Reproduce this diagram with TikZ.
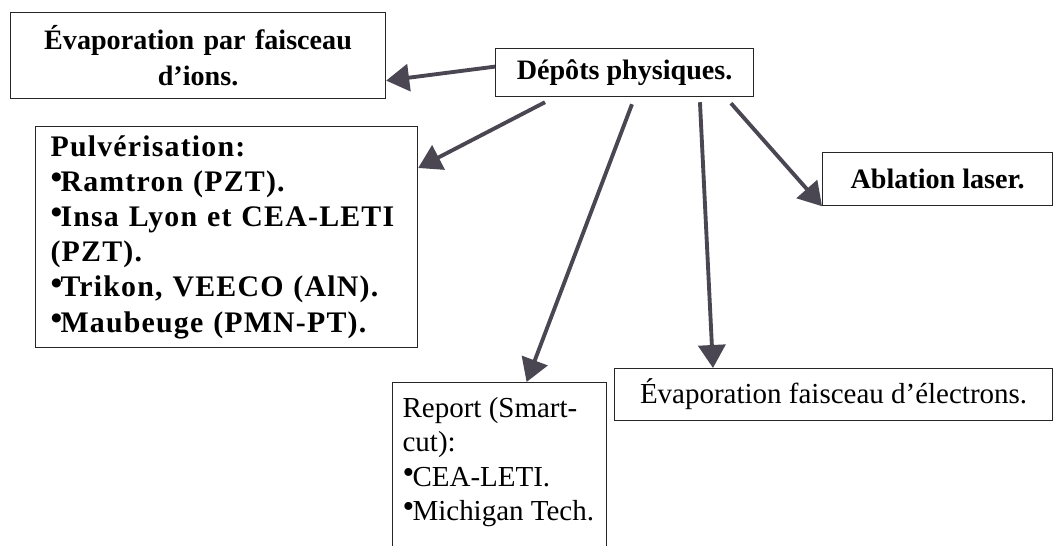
\documentclass[tikz,border=0pt]{standalone}
\usepackage{fontspec}
\setmainfont{Liberation Serif}
\usetikzlibrary{arrows.meta}

\definecolor{gristrait}{HTML}{4A4652}
\newcommand{\puce}{\raisebox{.2ex}{\fontsize{19}{19}\selectfont\textbullet}\kern-1pt}

\begin{document}
\begin{tikzpicture}[x=0.02cm,y=-0.02cm,
		boite/.style={draw=black!85,line width=0.7pt,anchor=north west,inner sep=0pt},
		gras/.style={font=\fontsize{16}{20}\selectfont\bfseries},
		liste/.style={font=\fontsize{17}{20}\selectfont\bfseries\addfontfeature{LetterSpace=4}},
		maigre/.style={font=\fontsize{16.5}{19.5}\selectfont},
		fleche/.style={draw=gristrait,line width=2.2pt,-{Triangle[length=0.46cm,width=0.54cm]}}]
				\useasboundingbox (0,0) rectangle (1054,545);

				\node[boite,gras,minimum width=7.5cm,minimum height=1.72cm,text width=7.3cm,align=center] (ions) at (10,12) {Évaporation par faisceau\\ d’ions.};
				\node[boite,gras,minimum width=5.16cm,minimum height=0.96cm] (depots) at (495,48) {Dépôts physiques.};
				\node[boite,liste,minimum width=7.64cm,minimum height=4.42cm,text width=7.04cm,inner xsep=0.3cm,align=left] (pulv) at (35,126)
					{Pulvérisation:\\ \puce Ramtron (PZT).\\ \puce Insa Lyon et CEA-LETI\\ (PZT).\\ \puce Trikon, VEECO (AlN).\\ \puce Maubeuge (PMN-PT).};
				\node[boite,gras,minimum width=4.6cm,minimum height=1.06cm] (ablation) at (822,152) {Ablation laser.};
				\node[boite,maigre,minimum width=8.76cm,minimum height=1.04cm] (electrons) at (614,368) {Évaporation faisceau d’électrons.};
				\node[boite,maigre,inner xsep=0.2cm,inner ysep=0.3cm] (report) at (392,382)
					{\begin{minipage}[t][3.6cm][t]{3.88cm}\raggedright Report (Smart-\\ cut):\\ \puce CEA-LETI.\\ \puce Michigan Tech.\end{minipage}};

				% fleches depuis le noeud central
				\draw[fleche] ([yshift=0.12cm]depots.west) -- ([yshift=-0.5cm]ions.east);
				\draw[fleche] ([xshift=1cm,yshift=-0.1cm]depots.south west) -- ([yshift=-0.84cm]pulv.north east);
				\draw[fleche] ([xshift=2.74cm,yshift=-0.14cm]depots.south west) -- ([xshift=0.54cm]report.north);
				\draw[fleche] ([xshift=4.1cm,yshift=-0.1cm]depots.south west) -- ([xshift=1.98cm]electrons.north west);
				\draw[fleche] ([xshift=4.72cm,yshift=-0.12cm]depots.south west) -- (ablation.south west);
			\end{tikzpicture}
\end{document}
